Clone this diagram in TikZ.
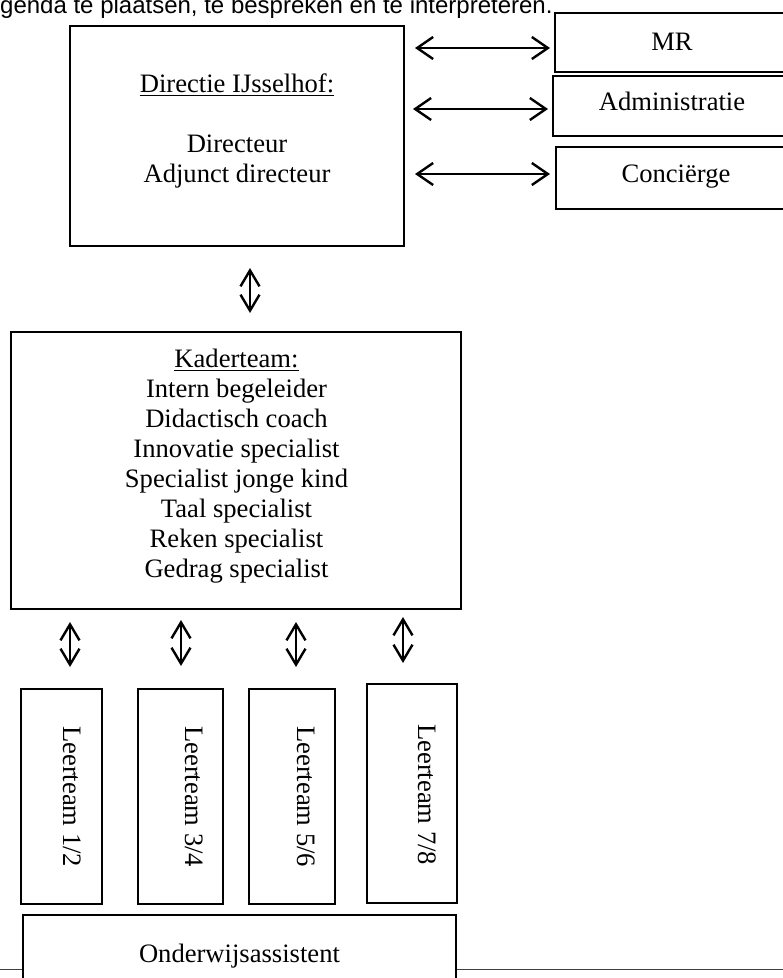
\documentclass[tikz,border=0pt]{standalone}
\usepackage{fontspec}
\setmainfont{Liberation Serif}
\newfontfamily\arialfont{Liberation Sans}
\usetikzlibrary{arrows.meta}
\tikzset{
  box/.style={draw, line width=1.3pt, inner sep=0pt, rectangle},
  txt/.style={inner sep=0pt, anchor=base, font=\fontsize{26.6}{30}\selectfont},
  vtxt/.style={inner sep=0pt, anchor=base west, rotate=-90, font=\fontsize{26.6}{30}\selectfont},
  harrow/.style={{Straight Barb[length=16pt,width=22pt,line width=2.4pt]}-{Straight Barb[length=16pt,width=22pt,line width=2.4pt]}, line width=2.2pt},
  varrow/.style={{Straight Barb[length=16pt,width=19pt,line width=2.4pt]}-{Straight Barb[length=16pt,width=19pt,line width=2.4pt]}, line width=2.2pt},
  uline/.style={line width=1.2pt}
}
\begin{document}
\begin{tikzpicture}[x=1pt,y=-1pt]
\useasboundingbox (0,0) rectangle (783,978);
% top text
\node[inner sep=0pt, anchor=base west, font=\arialfont\fontsize{24}{28}\selectfont] (toptxt) at (0,13.5) {genda te plaatsen, te bespreken en te interpreteren.};
% Directie
\node[box, minimum width=334pt, minimum height=220pt] (dir) at (237,136) {};
\node[txt] (dir1) at (237,92) {Directie IJsselhof:};
\draw[uline] ([yshift=-3.5pt]dir1.base west) -- ([yshift=-3.5pt]dir1.base east);
\node[txt] (dir2) at (237,152) {Directeur};
\node[txt] (dir3) at (237,182) {Adjunct directeur};
% right boxes
\node[box, minimum width=235pt, minimum height=59pt] (mr) at (672.5,42.5) {};
\node[txt] (mrt) at (672,50) {MR};
\node[box, minimum width=237pt, minimum height=60pt] (adm) at (671.5,106) {};
\node[txt] (admt) at (672,110) {Administratie};
\node[box, minimum width=234pt, minimum height=62pt] (con) at (673,178) {};
\node[txt] (cont) at (676,182) {Conciërge};
% horizontal arrows
\coordinate (h1a) at (415,48); \coordinate (h1b) at (550,48);
\coordinate (h2a) at (413,109); \coordinate (h2b) at (548,109);
\coordinate (h3a) at (415,174); \coordinate (h3b) at (550,174);
\draw[harrow] (h1a) -- (h1b);
\draw[harrow] (h2a) -- (h2b);
\draw[harrow] (h3a) -- (h3b);
% vertical arrow directie - kader
\coordinate (v0a) at (250,268); \coordinate (v0b) at (250,313);
\draw[varrow] (v0a) -- (v0b);
% Kaderteam
\node[box, minimum width=450pt, minimum height=277pt] (kad) at (236,470.5) {};
\node[txt] (k0) at (236.5,367.7) {Kaderteam:};
\draw[uline] ([yshift=-3pt]k0.base west) -- ([yshift=-3pt]k0.base east);
\node[txt] (k1) at (236.5,397.7) {Intern begeleider};
\node[txt] (k2) at (236.5,427.7) {Didactisch coach};
\node[txt] (k3) at (236.5,457.7) {Innovatie specialist};
\node[txt] (k4) at (236.5,487.7) {Specialist jonge kind};
\node[txt] (k5) at (236.5,517.7) {Taal specialist};
\node[txt] (k6) at (236.5,547.7) {Reken specialist};
\node[txt] (k7) at (236.5,577.7) {Gedrag specialist};
% vertical arrows to leerteams
\coordinate (v1a) at (70,622); \coordinate (v1b) at (70,667);
\coordinate (v2a) at (181,620); \coordinate (v2b) at (181,666);
\coordinate (v3a) at (296,622); \coordinate (v3b) at (296,667);
\coordinate (v4a) at (403,617); \coordinate (v4b) at (403,663);
\draw[varrow] (v1a) -- (v1b);
\draw[varrow] (v2a) -- (v2b);
\draw[varrow] (v3a) -- (v3b);
\draw[varrow] (v4a) -- (v4b);
% Leerteams
\node[box, minimum width=81pt, minimum height=215pt] (l1) at (61.5,796.5) {};
\node[box, minimum width=85pt, minimum height=215pt] (l2) at (180.5,796.5) {};
\node[box, minimum width=86pt, minimum height=215pt] (l3) at (292,796.5) {};
\node[box, minimum width=90pt, minimum height=219pt] (l4) at (412,793.5) {};
\node[vtxt] (l1t) at (63.5,726) {Leerteam 1/2};
\node[vtxt] (l2t) at (185,726) {Leerteam 3/4};
\node[vtxt] (l3t) at (297,726) {Leerteam 5/6};
\node[vtxt] (l4t) at (418.5,724) {Leerteam 7/8};
% bottom page line and Onderwijsassistent
\coordinate (pl) at (0,969.3); \coordinate (pr) at (783,969.3);
\draw[line width=1.2pt, black!75] (pl) -- (pr);
\node[box, fill=white, minimum width=433pt, minimum height=100pt] (ond) at (239.5,965) {};
\node[txt] (ondt) at (239.5,962) {Onderwijsassistent};
\end{tikzpicture}
\end{document}
